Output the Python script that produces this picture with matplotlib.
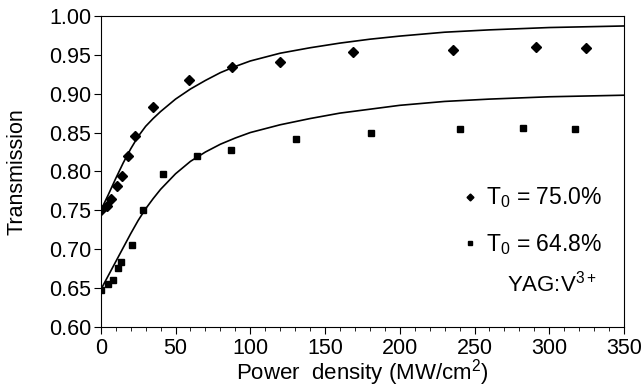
import matplotlib
matplotlib.use("Agg")
import matplotlib.pyplot as plt
from matplotlib.ticker import MultipleLocator

plt.rcParams['font.family'] = ['Liberation Sans', 'DejaVu Sans']
plt.rcParams['mathtext.fontset'] = 'custom'
plt.rcParams['mathtext.rm'] = 'Liberation Sans'
plt.rcParams['mathtext.it'] = 'Liberation Sans:italic'

# measured points, T0 = 75.0 %
p_hi = [0, 4, 7, 11, 14, 18.5, 23, 35, 59, 87.6, 119.8, 168.9, 235.3, 291, 324.8]
t_hi = [0.750, 0.755, 0.765, 0.781, 0.794, 0.820, 0.845, 0.883, 0.917, 0.934,
        0.941, 0.953, 0.956, 0.960, 0.959]

# measured points, T0 = 64.8 %
p_lo = [0, 4.9, 8.2, 11.6, 13.6, 20.7, 28.1, 41.3, 64.3, 87.2, 130.7, 180.7,
        240.2, 282.6, 317.4]
t_lo = [0.648, 0.655, 0.660, 0.676, 0.684, 0.706, 0.750, 0.797, 0.820, 0.827,
        0.842, 0.849, 0.855, 0.856, 0.854]

# fitted curves
fit_p = [0, 5, 10, 15, 20, 25, 30, 35, 40, 50, 60, 70, 80, 90, 100, 110, 120,
         140, 160, 180, 200, 230, 260, 300, 350]
fit_hi = [0.750, 0.770, 0.791, 0.811, 0.829, 0.845, 0.858, 0.868, 0.877, 0.893,
          0.906, 0.917, 0.927, 0.935, 0.942, 0.947, 0.952, 0.959, 0.965, 0.970,
          0.974, 0.979, 0.982, 0.985, 0.987]
fit_lo = [0.648, 0.666, 0.684, 0.702, 0.720, 0.737, 0.752, 0.765, 0.777, 0.797,
          0.813, 0.825, 0.835, 0.843, 0.850, 0.855, 0.860, 0.868, 0.875, 0.880,
          0.885, 0.890, 0.893, 0.896, 0.898]

fig = plt.figure(figsize=(6.42, 3.87), dpi=100)
ax = fig.add_axes([0.157, 0.155, 0.815, 0.804])

ax.plot(fit_p, fit_hi, color='black', lw=1.2)
ax.plot(fit_p, fit_lo, color='black', lw=1.2)
ax.plot(p_hi, t_hi, 'D', color='black', ms=5, label='T$_0$ = 75.0%')
ax.plot(p_lo, t_lo, 's', color='black', ms=4.5, label='T$_0$ = 64.8%')

ax.set_xlim(0, 350)
ax.set_ylim(0.60, 1.00)
ax.xaxis.set_major_locator(MultipleLocator(50))
ax.xaxis.set_minor_locator(MultipleLocator(10))
ax.yaxis.set_major_locator(MultipleLocator(0.05))
ax.yaxis.set_major_formatter(matplotlib.ticker.FormatStrFormatter('%.2f'))
ax.tick_params(axis='both', which='major', labelsize=15.5, length=5, direction='out', pad=2)
ax.tick_params(axis='x', which='minor', length=3, direction='out')
ax.tick_params(axis='x', which='major', pad=3)

ax.set_xlabel('Power  density (MW/cm$^2$)', fontsize=16)
ax.xaxis.set_label_coords(0.5, -0.098)
ax.set_ylabel('Transmission', fontsize=15.5)
ax.yaxis.set_label_coords(-0.14, 0.5)

leg = ax.legend(loc='upper left', bbox_to_anchor=(0.655, 0.521), frameon=False,
                fontsize=16.5, handlelength=0.5, handletextpad=0.45,
                labelspacing=0.94, markerscale=0.7)
ax.text(0.948, 0.141, 'YAG:V$^{3+}$', transform=ax.transAxes, fontsize=16,
        ha='right', va='center')

fig.savefig('out.png', dpi=100)
